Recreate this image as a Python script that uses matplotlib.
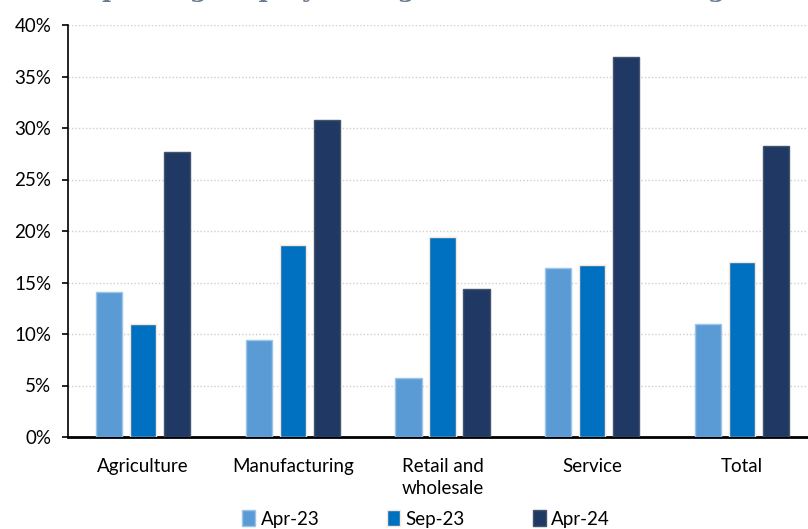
import matplotlib
matplotlib.use("Agg")
import matplotlib.pyplot as plt
import numpy as np
from matplotlib.ticker import FuncFormatter, MultipleLocator

categories = ["Agriculture", "Manufacturing", "Retail and\nwholesale", "Service", "Total"]
series_names = ["Apr-23", "Sep-23", "Apr-24"]
apr23 = [14.1, 9.4, 5.7, 16.4, 11.0]
sep23 = [11.0, 18.6, 19.4, 16.7, 17.0]
apr24 = [27.7, 30.8, 14.4, 36.9, 28.3]
title = "Expecting employment growth in the following 12 months"

colors = ["#5B9BD5", "#0070C0", "#1F3864"]
edges = ["#9DC3E6", "#FBE5D6", "#44546A"]

plt.rcParams['font.family'] = ['Lato', 'DejaVu Sans']

fig = plt.figure(figsize=(8.08, 5.29), dpi=100)
W, H = 808, 529
left, right, top, bottom = 68, 817, 25, 437
ax = fig.add_axes([left / W, 1 - bottom / H, (right - left) / W, (bottom - top) / H])

x = np.arange(len(categories))
bw = 0.175
off = 0.227
handles = []
for i, (vals, c, ec) in enumerate(zip([apr23, sep23, apr24], colors, edges)):
    b = ax.bar(x + (i - 1) * off, vals, width=bw, color=c, edgecolor=ec, linewidth=1.0,
               label=series_names[i], zorder=3)
    handles.append(b)

ax.set_xlim(-0.5, len(categories) - 0.5)
ax.set_ylim(0, 40)
ax.yaxis.set_major_locator(MultipleLocator(5))
ax.yaxis.set_major_formatter(FuncFormatter(lambda v, p: f"{v:.0f}%"))
ax.set_xticks(x)
ax.set_xticklabels(categories, fontsize=13.5, linespacing=1.35)
ax.tick_params(axis='x', length=0, pad=15)
ax.tick_params(axis='y', length=4, width=1.2, direction='out', labelsize=13.5, pad=8)
ax.grid(axis='y', color='#CFCFCF', linestyle=(0, (1, 1.5)), linewidth=1.0, zorder=0)
for s in ['top', 'right']:
    ax.spines[s].set_visible(False)
ax.spines['left'].set_linewidth(1.2)
ax.spines['bottom'].set_linewidth(2.0)

fig.legend(handles=handles, labels=series_names, loc='center', bbox_to_anchor=(426 / W, 1 - 519 / H),
           ncol=3, frameon=False, fontsize=13.5, handlelength=0.7, handleheight=0.9,
           columnspacing=3.6, handletextpad=0.3)

fig.text(68 / W, 1 + 3 / H, title, ha='left', va='baseline', fontsize=18, fontweight='bold',
         family='DejaVu Serif', color='#6A7A90')

fig.savefig("out.png", dpi=100)
